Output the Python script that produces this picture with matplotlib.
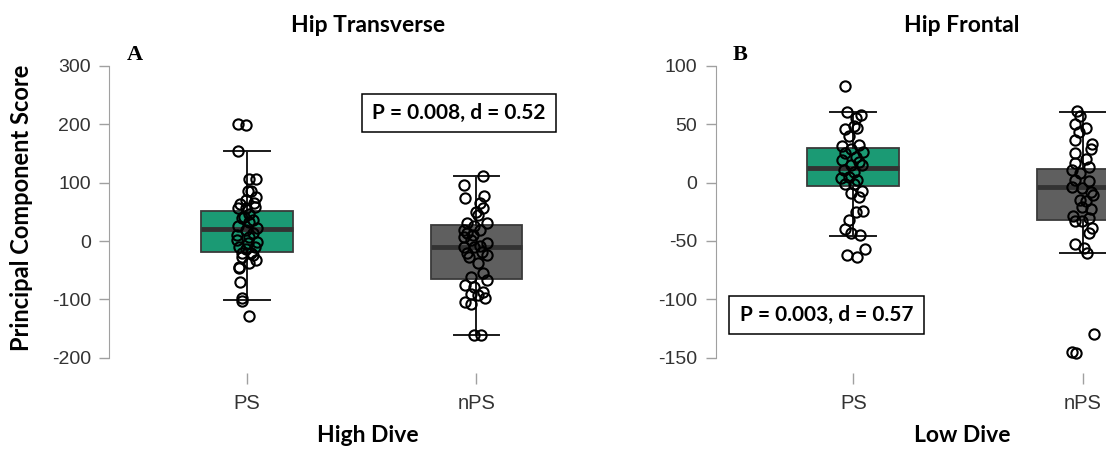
import matplotlib
matplotlib.use("Agg")
import matplotlib.pyplot as plt
from matplotlib.patches import Rectangle

W, H = 1106, 449
plt.rcParams["axes.unicode_minus"] = False

groups = ["PS", "nPS"]
box_colors = ["#1b9a74", "#5f5f5f"]

# ---- panel A: Hip Transverse, High Dive ----
a_med = [20.6, -10.3]
a_q1 = [-19.4, -65.1]
a_q3 = [51.5, 27.5]
a_lo = [-101.6, -161.1]
a_hi = [154.3, 110.9]
a_ps_y = [200.6, 199.4, 154, 107, 106, 86, 85, 76, 66, 63, 56, 56, 47, 39, 36, 25, 22, 19,
          10, 7, -10, -10, -13, -21, -21, -33, -38, -44, -47, -70, -97, -103, -129,
          42, 13, 2, -1, -4, -24, -27, 59, 33, 70]
a_ps_dx = [-0.039, -0.005, -0.039, 0.011, 0.039, 0.006, 0.019, 0.039, 0.030, -0.028, -0.005,
           -0.039, 0.011, -0.020, 0.026, -0.040, 0.042, -0.005, -0.044, 0.011, -0.033, 0.034,
           -0.005, -0.020, 0.019, 0.039, 0.011, -0.036, -0.033, -0.028, -0.020, -0.020, 0.011,
           -0.012, 0.026, -0.044, 0.042, 0.003, 0.026, -0.020, 0.034, 0.011, -0.005]
a_nps_y = [111, 96, 73, 77, 65, 56, 50, 45, 31, 31, 25, 19, 19, 13, 10, 7, -3, -10, -9, -21,
           -24, -38, -27, -55, -61, -67, -75, -78, -87, -90, -93, -98, -104, -108, -161, -161,
           -10, -18, 2]
a_nps_dx = [0.030, -0.056, -0.048, 0.033, 0.014, 0.030, -0.002, 0.006, -0.040, 0.045, -0.009,
            -0.056, 0.014, -0.040, -0.017, -0.056, 0.045, -0.009, 0.014, -0.040, 0.045, 0.006,
            -0.033, 0.030, -0.025, 0.045, -0.048, -0.009, 0.030, -0.025, 0.006, 0.037, -0.048,
            -0.025, -0.009, 0.019, -0.056, 0.022, -0.025]

# ---- panel B: Hip Frontal, Low Dive ----
b_med = [12.9, -3.4]
b_q1 = [-2.8, -32.0]
b_q3 = [30.0, 11.4]
b_lo = [-45.4, -60.6]
b_hi = [60.8, 60.8]
b_ps_y = [82.9, 60.9, 58, 55, 45.7, 47, 40, 48.6, 31, 32, 29, 25, 26, 22, 19, 18, 15, 15, 11,
          9, 4, 5, 2, -1, -1, -9, -7, -12, -25, -24, -32, -40, -43, -45, -57, -62, -64]
b_ps_dx = [-0.035, -0.027, 0.033, 0.011, -0.038, 0.018, -0.020, 0.003, -0.050, 0.026, -0.012,
           -0.035, 0.041, 0.011, -0.050, 0.026, -0.012, 0.038, -0.042, 0.003, -0.053, -0.020,
           0.018, -0.035, 0.003, -0.008, 0.038, 0.026, 0.011, 0.041, -0.020, -0.038, -0.008,
           0.029, 0.049, -0.027, 0.018]
b_nps_y = [61, 57, 50, 46.6, 43.7, 36.6, 33, 29, 25, 20, 16.6, 13.7, 10.9, 8, 2.3, 1, -3.4, -5,
           -7.7, -10.6, -15, -16, -20.6, -23, -29, -30.6, -33, -33, -39, -43, -53, -56, -60.6,
           -130, -145.4, -146]
b_nps_dx = [-0.026, -0.011, -0.036, 0.015, -0.015, -0.033, 0.039, 0.035, -0.036, 0.012, -0.033,
            0.027, -0.046, -0.011, -0.036, 0.027, -0.049, -0.003, 0.035, 0.042, -0.011, 0.012,
            -0.003, 0.035, -0.041, 0.027, -0.033, -0.003, 0.039, 0.027, -0.036, 0.005, 0.020,
            0.050, -0.049, -0.030]

a_ticks = [-200, -100, 0, 100, 200, 300]
b_ticks = [-150, -100, -50, 0, 50, 100]


def fx(x):
    return x / W


def fy(y):
    return 1 - y / H


def panel(ax, med, q1, q3, lo, hi, pts, ticks, ylim):
    stats = [dict(med=med[i], q1=q1[i], q3=q3[i], whislo=lo[i], whishi=hi[i], fliers=[])
             for i in range(2)]
    bp = ax.bxp(stats, positions=[1, 2], widths=0.4, capwidths=0.2, patch_artist=True,
                showfliers=False,
                boxprops=dict(edgecolor="#3a3a3a", linewidth=1.3),
                medianprops=dict(color="#333333", linewidth=3.5),
                whiskerprops=dict(color="#1a1a1a", linewidth=1.4),
                capprops=dict(color="#1a1a1a", linewidth=1.4))
    for patch, c in zip(bp["boxes"], box_colors):
        patch.set_facecolor(c)
    for i, (ys, dxs) in enumerate(pts):
        xs = [i + 1 + d for d in dxs]
        ax.plot(xs, ys, "o", mfc="none", mec="black", ms=7.4, mew=1.5, zorder=5, clip_on=False)
    ax.set_xlim(0.4, 2.6)
    ax.set_ylim(*ylim)
    ax.set_xticks([1, 2], groups)
    ax.set_yticks(ticks)
    for s in ("top", "right", "bottom"):
        ax.spines[s].set_visible(False)
    ax.spines["left"].set_color("#a0a0a0")
    ax.spines["left"].set_bounds(ticks[0], ticks[-1])
    ax.tick_params(axis="y", length=7.2, width=1, color="#a0a0a0", pad=6,
                   labelsize=14, labelcolor="#333333")
    ax.tick_params(axis="x", length=7.6, width=1, color="#a0a0a0", pad=8,
                   labelsize=14.5, labelcolor="#333333")
    for lab in ax.get_xticklabels() + ax.get_yticklabels():
        lab.set_fontfamily("Liberation Sans")
    ax.set_facecolor("none")


fig = plt.figure(figsize=(W / 100, H / 100), dpi=100)
bottom, top = fy(372.7), fy(50)
axa = fig.add_axes([fx(109.2), bottom, 505 / W, top - bottom])
axb = fig.add_axes([fx(715.6), bottom, 505 / W, top - bottom])

panel(axa, a_med, a_q1, a_q3, a_lo, a_hi, [(a_ps_y, a_ps_dx), (a_nps_y, a_nps_dx)],
      a_ticks, (-225.7, 327.4))
panel(axb, b_med, b_q1, b_q3, b_lo, b_hi, [(b_ps_y, b_ps_dx), (b_nps_y, b_nps_dx)],
      b_ticks, (-162.9, 113.7))

bold = dict(fontfamily="Lato", fontweight="bold", color="black")
fig.text(fx(368), fy(25.7), "Hip Transverse", ha="center", va="center", fontsize=16.5, **bold)
fig.text(fx(962), fy(25.7), "Hip Frontal", ha="center", va="center", fontsize=16.5, **bold)
fig.text(fx(368), fy(436), "High Dive", ha="center", va="center", fontsize=16.5, **bold)
fig.text(fx(962), fy(436), "Low Dive", ha="center", va="center", fontsize=16.5, **bold)
fig.text(fx(21.4), fy(207.5), "Principal Component Score", rotation=90,
         ha="center", va="center", fontsize=17, **bold)

serif = dict(fontfamily="Liberation Serif", fontweight="bold", fontsize=16, color="black")
fig.text(fx(127), fy(60), "A", ha="left", va="baseline", **serif)
fig.text(fx(733), fy(60), "B", ha="left", va="baseline", **serif)

# statistics boxes
for (x0, x1, y0, y1, txt) in [(362, 556, 94, 132.3, "P = 0.008, d = 0.52"),
                              (729, 924, 295.7, 334, "P = 0.003, d = 0.57")]:
    fig.add_artist(Rectangle((fx(x0), fy(y1)), (x1 - x0) / W, (y1 - y0) / H,
                             transform=fig.transFigure, fill=False, ec="black", lw=1.1))
    fig.text(fx((x0 + x1) / 2), fy((y0 + y1) / 2), txt, ha="center", va="center",
             fontsize=15, **bold)

fig.savefig("out.png", dpi=100)
